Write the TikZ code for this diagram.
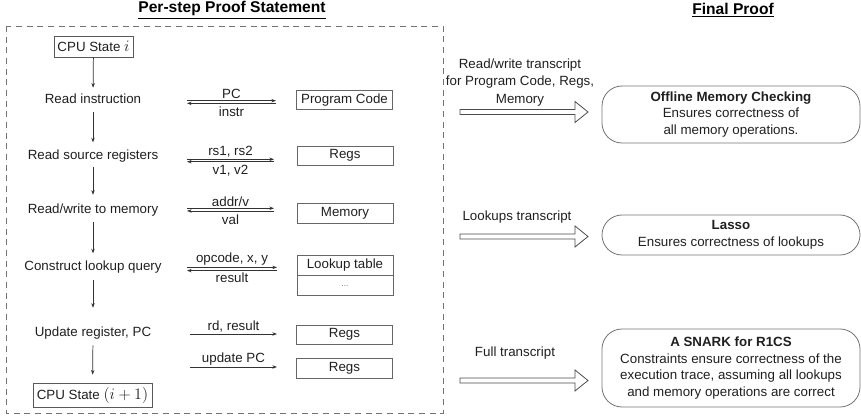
\documentclass[tikz,border=0pt]{standalone}
\usepackage{fontspec}
\setmainfont{Liberation Sans}
\usetikzlibrary{arrows.meta}

\begin{document}
\begin{tikzpicture}[x=0.75pt,y=-0.75pt,
  every node/.style={text=black!88, font=\fontsize{10}{12.5}\selectfont},
  title/.style={text=black, font=\bfseries\fontsize{11.7}{14}\selectfont},
  stepnode/.style={inner sep=0pt, text height=7.5pt, text depth=2.5pt},
  statebox/.style={draw=black!65, line width=0.5pt, inner sep=2.5pt, minimum height=15.75pt},
  res/.style={draw=black!60, line width=0.5pt, minimum width=72pt, minimum height=14.25pt, inner sep=0pt},
  flow/.style={-{Stealth[length=3.5pt,width=2.6pt]}, draw=black!80, line width=0.55pt},
  down/.style={flow, shorten <=4pt, shorten >=5pt},
  lblA/.style={midway, above, inner sep=1pt},
  lblB/.style={midway, below, inner sep=2.5pt},
  frame/.style={draw=black!55, line width=0.6pt, dash pattern=on 4.5pt off 3.5pt},
  hollow/.style={draw=black!70, fill=white, line width=0.6pt, line join=miter},
  proofbox/.style={draw=black!55, line width=0.6pt, rounded corners=15pt, minimum width=193.5pt, align=center, inner sep=0pt}
]
\useasboundingbox (0,0) rectangle (861,417);

% headings
\node[title] (hleft) at (232,10) {\underline{Per-step Proof Statement}};
\node[title] (hright) at (733,10) {\underline{Final Proof}};

% boundary of the per-step statement
\draw[frame] (6,26) rectangle (443,413);

% one CPU step, top to bottom
\node[statebox, minimum width=59.25pt] (cpu0) at (93.5,46.5) {CPU State {\fontsize{12.5}{12.5}\selectfont$i$}};
\node[stepnode] (s1) at (93,100) {Read instruction};
\node[stepnode] (s2) at (93,156) {Read source registers};
\node[stepnode] (s3) at (93,210) {Read/write to memory};
\node[stepnode] (s4) at (93,267) {Construct lookup query};
\node[stepnode] (s5) at (93,333) {Update register, PC};
\node[statebox, minimum width=89.25pt, minimum height=18pt] (cpu1) at (92.5,395) {CPU State {\fontsize{12.5}{12.5}\selectfont$(i+1)$}};

\draw[down, shorten <=0pt, shorten >=4pt] (cpu0) -- (s1);
\draw[down] (s1) -- (s2);
\draw[down, shorten <=3.2pt, shorten >=6.2pt] (s2) -- (s3);
\draw[down] (s3) -- (s4);
\draw[down, shorten <=4.7pt, shorten >=13.7pt] (s4) -- (s5);
\draw[down, shorten >=6pt] (s5) -- (cpu1);

% memories and tables touched by the step
\node[res] (pcode) at (344.5,100) {Program Code};
\node[res] (regsA) at (345,155.5) {Regs};
\node[res, minimum height=15pt] (mem) at (345,213) {Memory};
\node[res, minimum height=15pt] (lut) at (345,265) {Lookup table};
\node[res, minimum height=15pt, anchor=north, font=\fontsize{6}{7}\selectfont, text=black!60] (lutd) at (lut.south) {...};
\node[res] (regsB) at (344.5,334.5) {Regs};
\node[res, minimum height=15pt] (regsC) at (344.5,368) {Regs};

% request / response pairs
\coordinate (pcL) at (187,100.7);   \coordinate (pcR) at (276,100.7);
\coordinate (rsL) at (187,159.3);   \coordinate (rsR) at (274,159.3);
\coordinate (mmL) at (187,208.3);   \coordinate (mmR) at (274,208.3);
\coordinate (luL) at (187,267.4);   \coordinate (luR) at (277,267.4);
\coordinate (rdL) at (190,334);     \coordinate (rdR) at (277,334);
\coordinate (upL) at (190,367);     \coordinate (upR) at (277,367);

\draw[flow] (pcL) -- (pcR) node[lblA] {PC};
\draw[flow] ([yshift=-2pt]pcR) -- ([yshift=-2pt]pcL) node[lblB] {instr};
\draw[flow] (rsL) -- (rsR) node[lblA] {rs1, rs2};
\draw[flow] ([yshift=-1.8pt]rsR) -- ([yshift=-1.8pt]rsL) node[lblB] {v1, v2};
\draw[flow] (mmL) -- (mmR) node[lblA] {addr/v};
\draw[flow] ([yshift=-2pt]mmR) -- ([yshift=-2pt]mmL) node[lblB] {val};
\draw[flow] (luL) -- (luR) node[lblA] {opcode, x, y};
\draw[flow] ([yshift=-2.4pt]luR) -- ([yshift=-2.4pt]luL) node[lblB, inner sep=1.5pt] {result};
\draw[flow] (rdL) -- (rdR) node[lblA] {rd, result};
\draw[flow] (upL) -- (upR) node[lblA] {update PC};

% transcripts handed to the final proof
\node[align=center, font=\fontsize{10}{13}\selectfont] (tr1) at (520,82.5)
  {Read/write transcript\\for Program Code, Regs,\\Memory};
\node (tr2) at (517,217) {Lookups transcript};
\node (tr3) at (515,353) {Full transcript};

\coordinate (a1) at (460,112);
\coordinate (a2) at (460,236.5);
\coordinate (a3) at (460,380.5);
\draw[hollow] (a1) ++(0,-2.5) -- ++(115,0) -- ++(0,-8) -- ++(13,10.5) -- ++(-13,10.5) -- ++(0,-8) -- ++(-115,0) -- cycle;
\draw[hollow] (a2) ++(0,-2.5) -- ++(115,0) -- ++(0,-8) -- ++(13,10.5) -- ++(-13,10.5) -- ++(0,-8) -- ++(-115,0) -- cycle;
\draw[hollow] (a3) ++(0,-2.5) -- ++(115,0) -- ++(0,-8) -- ++(13,10.5) -- ++(-13,10.5) -- ++(0,-8) -- ++(-115,0) -- cycle;

% final proof components
\node[proofbox, minimum height=42.75pt] (omc) at (731,114.5)
  {\textbf{Offline Memory Checking}\\Ensures correctness of\\all memory operations.};
\node[proofbox, minimum height=30pt] (lasso) at (731,235)
  {\textbf{Lasso}\\Ensures correctness of lookups};
\node[proofbox, minimum height=58.5pt] (snark) at (731,368)
  {\textbf{A SNARK for R1CS}\\Constraints ensure correctness of the\\execution trace, assuming all lookups\\and memory operations are correct};
\end{tikzpicture}
\end{document}
